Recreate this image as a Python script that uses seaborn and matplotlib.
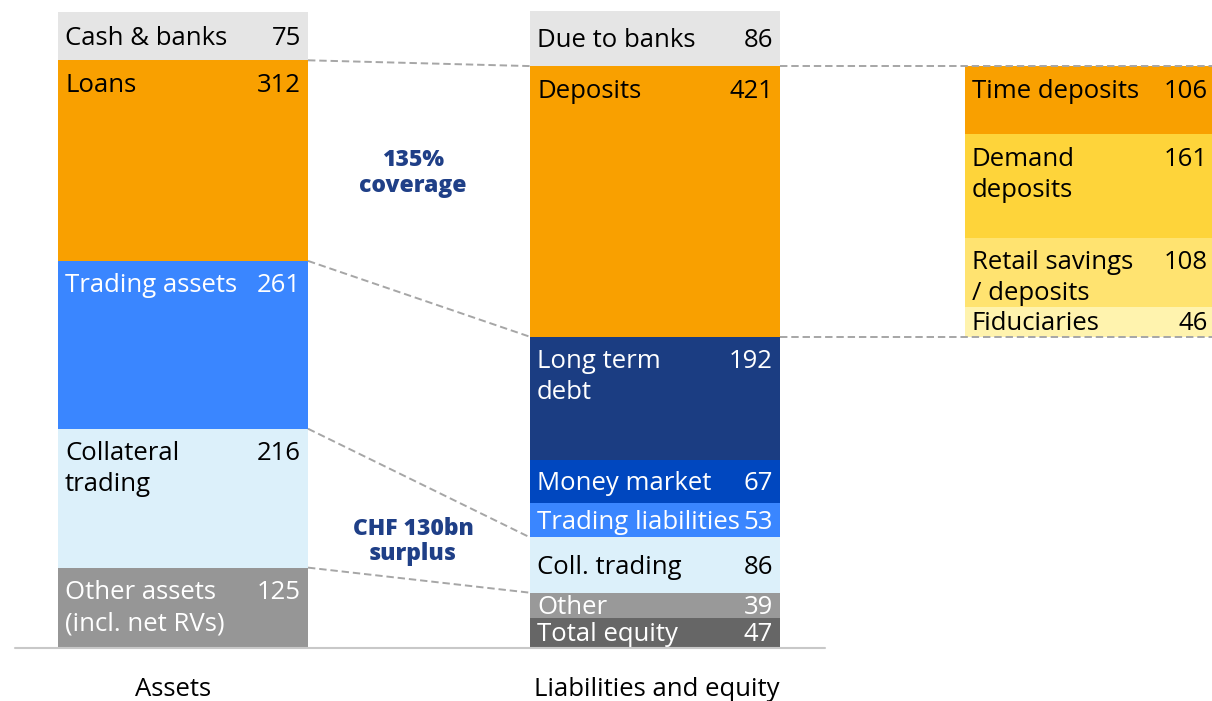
import matplotlib
matplotlib.use("Agg")
import matplotlib.pyplot as plt
import seaborn as sns

# ---------------- data ----------------
asset_labels = ["Cash & banks", "Loans", "Trading assets", "Collateral\ntrading",
                "Other assets\n(incl. net RVs)"]
asset_values = [75, 312, 261, 216, 125]

liab_labels = ["Due to banks", "Deposits", "Long term\ndebt", "Money market",
               "Trading liabilities", "Coll. trading", "Other", "Total equity"]
liab_values = [86, 421, 192, 67, 53, 86, 39, 47]

dep_labels = ["Time deposits", "Demand\ndeposits", "Retail savings\n/ deposits", "Fiduciaries"]
dep_values = [106, 161, 108, 46]

column_titles = ["Assets", "Liabilities and equity"]
annotations = ["135%\ncoverage", "CHF 130bn\nsurplus"]

# ---------------- styles ----------------
asset_colors = ["#e5e5e5", "#f9a000", "#3a86ff", "#dcf0fa", "#969696"]
asset_text = ["black", "black", "white", "black", "white"]
liab_colors = ["#e5e5e5", "#f9a000", "#1b3d82", "#0047bf", "#3a86ff", "#dcf0fa", "#999999", "#666666"]
liab_text = ["black", "black", "white", "white", "white", "black", "white", "white"]
dep_colors = ["#f9a000", "#fed43a", "#ffe370", "#fff3ae"]
dep_text = ["black"] * 4

W, H = 1212, 701
BASE_PX = 648          # baseline, pixels from top
K = 0.643              # pixels per unit
BAR_W = 250
X_ASSETS, X_LIAB, X_DEP = 183, 655, 1090
FS = 18.5
FS_B = 16.5
NAVY = "#1f3f87"
DASH = "#a6a6a6"

sns.set_theme(style="white")
plt.rcParams["font.family"] = ["Open Sans", "DejaVu Sans"]

fig = plt.figure(figsize=(W / 100, H / 100), dpi=100)
ax = fig.add_axes([0, 0, 1, 1])


def py2v(py):
    return (BASE_PX - py) / K


def draw_stack(xc, labels, values, colors, tcolors, base=0.0):
    total = base + sum(values)
    top = total
    tops = [top]
    for lab, val, col, tc in zip(labels, values, colors, tcolors):
        bottom = top - val
        sns.barplot(x=[xc], y=[val], bottom=bottom, native_scale=True, orient="x",
                    width=BAR_W, color=col, saturation=1, errorbar=None,
                    linewidth=0, ax=ax)
        h_px = val * K
        off_px = h_px / 2 + 2 if h_px < 60 else 25
        y0 = top - off_px / K
        lines = lab.split("\n")
        for i, ln in enumerate(lines):
            ax.text(xc - BAR_W / 2 + 7, y0 - i * 31 / K, ln, ha="left", va="center",
                    fontsize=FS, color=tc)
        ax.text(xc + BAR_W / 2 - 7, y0, f"{val}", ha="right", va="center",
                fontsize=FS, color=tc)
        top = bottom
        tops.append(top)
    return tops


a_b = draw_stack(X_ASSETS, asset_labels, asset_values, asset_colors, asset_text)
l_b = draw_stack(X_LIAB, liab_labels, liab_values, liab_colors, liab_text)
dep_base = l_b[2]
d_b = draw_stack(X_DEP, dep_labels, dep_values, dep_colors, dep_text, base=dep_base)

dash_kw = dict(color=DASH, lw=1.4, linestyle=(0, (3.8, 2.0)), zorder=5)
aR = X_ASSETS + BAR_W / 2
lL = X_LIAB - BAR_W / 2
lR = X_LIAB + BAR_W / 2
for ai, li in [(1, 1), (2, 2), (3, 5), (4, 6)]:
    ax.plot([aR, lL], [a_b[ai], l_b[li]], **dash_kw)
for li in (1, 2):
    ax.plot([lR, W], [l_b[li], l_b[li]], **dash_kw)

# baseline
ax.plot([15, 825], [0, 0], color="#c8c8c8", lw=1.5, zorder=4)

# column titles
ax.text(173, py2v(690), column_titles[0], ha="center", va="center", fontsize=FS, color="black")
ax.text(657, py2v(690), column_titles[1], ha="center", va="center", fontsize=FS, color="black")

# annotations
for txt, ys in zip(annotations, [(160, 186), (529, 554)]):
    for ln, yy in zip(txt.split("\n"), ys):
        ax.text(413, py2v(yy), ln, ha="center", va="center", fontsize=FS_B,
                fontweight=800, color=NAVY)

ax.set_xlim(0, W)
ax.set_ylim(py2v(H), py2v(0))
ax.axis("off")

fig.savefig("out.png", dpi=100)
